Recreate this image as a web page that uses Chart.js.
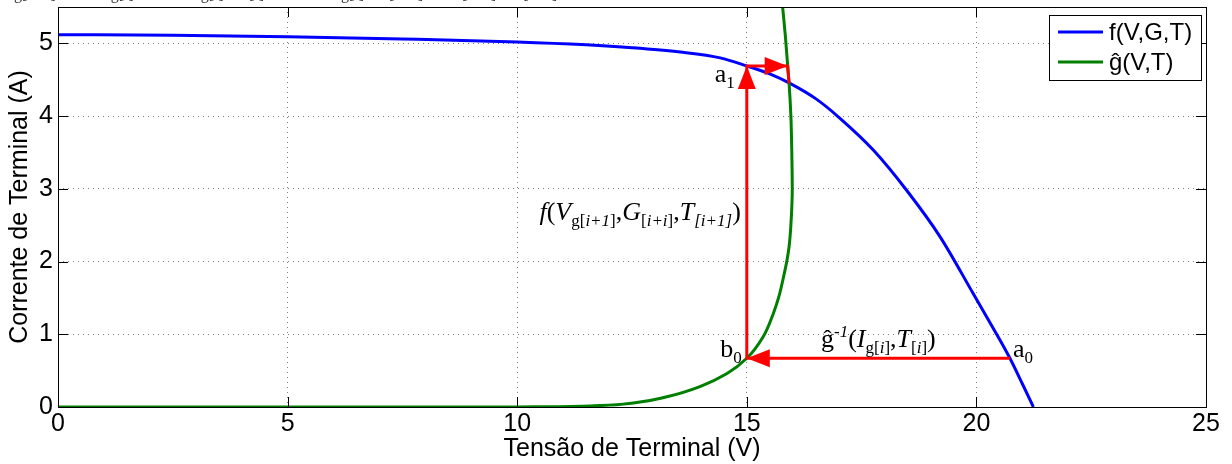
<!DOCTYPE html>
<html>
<head>
<meta charset="utf-8">
<script src="https://cdn.jsdelivr.net/npm/chart.js@4.4.1/dist/chart.umd.min.js"></script>
<style>
  html, body { margin: 0; padding: 0; background: #fff; }
  #wrap { width: 1232px; height: 464px; }
</style>
</head>
<body>
<div id="wrap"><canvas id="ivChart"></canvas></div>
<script>
// f(V,G,T) - I-V curve of the panel
const fV = [0, 2.5, 5, 7.5, 10, 11.5, 12.5, 13.55, 14.42, 15, 15.5, 15.94, 16.5, 17.03, 17.76, 18.48, 19.21, 19.93, 20.35, 20.73, 21.0, 21.24];
const fI = [5.12, 5.11, 5.09, 5.06, 5.02, 4.98, 4.94, 4.88, 4.80, 4.69, 4.58, 4.45, 4.24, 3.97, 3.53, 2.98, 2.34, 1.56, 1.10, 0.67, 0.32, 0];

// g^(V,T) - load curve
const gV = [0, 5, 10, 10.72, 11.81, 12.53, 13.26, 13.98, 14.57, 15, 15.36, 15.58, 15.7, 15.79, 15.87, 15.92, 15.96, 15.99, 15.98, 15.96, 15.92, 15.89, 15.84, 15.78];
const gI = [0, 0, 0, 0.003, 0.02, 0.055, 0.14, 0.28, 0.46, 0.67, 0.97, 1.29, 1.52, 1.76, 2.0, 2.2, 2.5, 3.0, 3.5, 4.0, 4.46, 4.69, 5.1, 5.5];

// iteration path a0 -> b0 -> a1 -> (over to g^) -> crossing
const pathV = [20.73, 15, 15, 15.89, 15.92];
const pathI = [0.67, 0.67, 4.69, 4.69, 4.45];
const headAt = [1, 2, 3];

const xTicks = [0, 5, 10, 15, 20, 25];
const yTicks = [0, 1, 2, 3, 4, 5];

const seriesLabels = ['f(V,G,T)', 'ĝ(V,T)'];
const seriesColors = ['#0000ff', '#007f00'];

const SANS = '"Liberation Sans", Arial, sans-serif';
const SERIF = '"Liberation Serif", "Times New Roman", serif';

function toXY(xs, ys) {
    return xs.map((x, i) => ({ x: x, y: ys[i] }));
}

// draws text with sub/superscripts; parts: [text, italic, level]
function drawRich(ctx, parts, x, y, align, size) {
    const fontOf = p => (p[1] ? 'italic ' : '') + (p[2] ? Math.round(size * 0.66) : size) + 'px ' + SERIF;
    let total = 0;
    parts.forEach(p => { ctx.font = fontOf(p); total += ctx.measureText(p[0]).width; });
    let cx = align === 'right' ? x - total : align === 'center' ? x - total / 2 : x;
    ctx.textAlign = 'left';
    ctx.textBaseline = 'alphabetic';
    parts.forEach(p => {
        ctx.font = fontOf(p);
        const dy = p[2] === -1 ? size * 0.22 : p[2] === 1 ? -size * 0.38 : 0;
        ctx.fillText(p[0], cx, y + dy);
        cx += ctx.measureText(p[0]).width;
    });
}

function arrowHead(ctx, x0, y0, x1, y1, len, half) {
    const d = Math.hypot(x1 - x0, y1 - y0);
    const ux = (x1 - x0) / d, uy = (y1 - y0) / d;
    const bx = x1 - ux * len, by = y1 - uy * len;
    ctx.beginPath();
    ctx.moveTo(x1, y1);
    ctx.lineTo(bx - uy * half, by + ux * half);
    ctx.lineTo(bx + uy * half, by - ux * half);
    ctx.closePath();
    ctx.fill();
}

const decorPlugin = {
    id: 'decor',
    afterDatasetsDraw(chart) {
        const ctx = chart.ctx;
        const xs = chart.scales.x, ys = chart.scales.y;
        const px = pathV.map(v => xs.getPixelForValue(v));
        const py = pathI.map(v => ys.getPixelForValue(v));
        ctx.save();
        ctx.fillStyle = '#ff0000';
        headAt.forEach(i => arrowHead(ctx, px[i - 1], py[i - 1], px[i], py[i], 23, 9));

        ctx.fillStyle = '#000';
        // point labels
        drawRich(ctx, [['a', false, 0], ['0', false, -1]], px[0] + 3, py[0] - 1, 'left', 26);
        drawRich(ctx, [['b', false, 0], ['0', false, -1]], px[1] - 5, py[1] - 1, 'right', 26);
        drawRich(ctx, [['a', false, 0], ['1', false, -1]], px[2] - 12, py[2] + 16, 'right', 26);

        // f(...) along the vertical step
        drawRich(ctx, [
            ['f', true, 0], ['(', false, 0], ['V', true, 0], ['g[', false, -1], ['i+1', true, -1], [']', false, -1],
            [',', false, 0], ['G', true, 0], ['[', false, -1], ['i+i', true, -1], [']', false, -1],
            [',', false, 0], ['T', true, 0], ['[i+1]', true, -1], [')', false, 0]
        ], px[1] - 6, (py[1] + py[2]) / 2 + 8, 'right', 26);

        // g^-1(...) above the horizontal step
        drawRich(ctx, [
            ['ĝ', false, 0], ['-1', true, 1], ['(', false, 0], ['I', true, 0], ['g[', false, -1], ['i', true, -1], [']', false, -1],
            [',', false, 0], ['T', true, 0], ['[', false, -1], ['i', true, -1], [']', false, -1], [')', false, 0]
        ], (px[0] + px[1]) / 2, py[0] - 11, 'center', 26);
        ctx.restore();
    },
    afterDraw(chart) {
        const ctx = chart.ctx;
        const a = chart.chartArea;
        const xs = chart.scales.x, ys = chart.scales.y;
        ctx.save();
        // axes box
        ctx.strokeStyle = '#000';
        ctx.lineWidth = 1;
        ctx.strokeRect(Math.round(a.left) + 0.5, Math.round(a.top) + 0.5, Math.round(a.right - a.left), Math.round(a.bottom - a.top));
        // inward ticks on all four sides
        ctx.beginPath();
        xTicks.forEach(v => {
            const x = Math.round(xs.getPixelForValue(v)) + 0.5;
            ctx.moveTo(x, a.bottom); ctx.lineTo(x, a.bottom - 10);
            ctx.moveTo(x, a.top); ctx.lineTo(x, a.top + 10);
        });
        yTicks.forEach(v => {
            const y = Math.round(ys.getPixelForValue(v)) + 0.5;
            ctx.moveTo(a.left, y); ctx.lineTo(a.left + 10, y);
            ctx.moveTo(a.right, y); ctx.lineTo(a.right - 10, y);
        });
        ctx.stroke();

        // legend box, inside the axes at the top right
        const lx = 1049, ly = 15, lw = 152, lh = 65;
        ctx.fillStyle = '#fff';
        ctx.fillRect(lx, ly, lw, lh);
        ctx.strokeRect(lx + 0.5, ly + 0.5, lw, lh);
        ctx.font = '24px ' + SANS;
        ctx.textBaseline = 'middle';
        ctx.textAlign = 'left';
        seriesLabels.forEach((lab, i) => {
            const y = ly + 17 + i * 30;
            ctx.strokeStyle = seriesColors[i];
            ctx.lineWidth = 3;
            ctx.beginPath();
            ctx.moveTo(lx + 9, y); ctx.lineTo(lx + 54, y);
            ctx.stroke();
            ctx.fillStyle = '#000';
            ctx.fillText(lab, lx + 60, y + 1);
        });

        // title of the figure, cut off by the top edge
        ctx.fillStyle = '#333';
        drawRich(ctx, [
            ['I', true, 0], ['g[', false, -1], ['i+1', true, -1], [']', false, -1], [' = ', false, 0], ['f', true, 0], ['(', false, 0],
            ['V', true, 0], ['g[', false, -1], ['i', true, -1], [']', false, -1], [' + ', false, 0], ['ĝ', false, 0], ['-1', true, 1],
            ['(', false, 0], ['I', true, 0], ['g[', false, -1], ['i', true, -1], [']', false, -1], [', ', false, 0], ['T', true, 0], ['[i]', true, -1],
            [') − ', false, 0], ['ĝ', false, 0], ['-1', true, 1], ['(', false, 0], ['I', true, 0], ['g[', false, -1], ['i', true, -1], [']', false, -1],
            [', ', false, 0], ['T', true, 0], ['[i+1]', true, -1], ['), ', false, 0], ['G', true, 0], ['[i+1]', true, -1], [', ', false, 0],
            ['T', true, 0], ['[i+1]', true, -1], [')', false, 0]
        ], 6, -6, 'left', 24);
        ctx.restore();
    }
};

const gridColor = (ticks) => (c) => {
    const v = c.tick ? c.tick.value : null;
    return (v === ticks[0] || v === ticks[ticks.length - 1]) ? 'rgba(0,0,0,0)' : 'rgba(0,0,0,0.5)';
};

new Chart(document.getElementById('ivChart'), {
    type: 'scatter',
    data: {
        datasets: [
            {
                label: 'path',
                data: toXY(pathV, pathI),
                showLine: true,
                borderColor: '#ff0000',
                borderWidth: 3,
                pointRadius: 0,
                tension: 0,
                order: 0
            },
            {
                label: seriesLabels[1],
                data: toXY(gV, gI),
                indexAxis: 'y',
                showLine: true,
                borderColor: seriesColors[1],
                borderWidth: 3,
                pointRadius: 0,
                cubicInterpolationMode: 'monotone',
                order: 1
            },
            {
                label: seriesLabels[0],
                data: toXY(fV, fI),
                showLine: true,
                borderColor: seriesColors[0],
                borderWidth: 3,
                pointRadius: 0,
                cubicInterpolationMode: 'monotone',
                order: 2
            }
        ]
    },
    options: {
        responsive: true,
        maintainAspectRatio: false,
        animation: false,
        events: [],
        layout: { padding: { top: 7, right: 26, left: 0, bottom: 0 } },
        plugins: {
            legend: { display: false },
            tooltip: { enabled: false },
            title: { display: false }
        },
        scales: {
            x: {
                type: 'linear',
                min: 0,
                max: 25,
                afterBuildTicks: s => { s.ticks = xTicks.map(v => ({ value: v })); },
                afterFit: s => { s.height = 57; s.paddingLeft = 0; s.paddingRight = 0; },
                ticks: {
                    color: '#000',
                    font: { family: SANS, size: 25 },
                    padding: 2,
                    maxRotation: 0,
                    autoSkip: false
                },
                grid: { drawTicks: false, color: gridColor(xTicks), lineWidth: 1 },
                border: { display: false, dash: [1, 4] },
                title: {
                    display: true,
                    text: 'Tensão de Terminal (V)',
                    color: '#000',
                    font: { family: SANS, size: 25 },
                    padding: { top: 0, bottom: 0 }
                }
            },
            y: {
                type: 'linear',
                min: 0,
                max: 5.5,
                afterBuildTicks: s => { s.ticks = yTicks.map(v => ({ value: v })); },
                afterFit: s => { s.width = 58; s.paddingTop = 0; s.paddingBottom = 0; },
                ticks: {
                    color: '#000',
                    font: { family: SANS, size: 25 },
                    padding: 5
                },
                grid: { drawTicks: false, color: gridColor([0, 5.5]), lineWidth: 1 },
                border: { display: false, dash: [1, 4] },
                title: {
                    display: true,
                    text: 'Corrente de Terminal (A)',
                    color: '#000',
                    font: { family: SANS, size: 25 },
                    padding: { top: 5, bottom: 0 }
                }
            }
        }
    },
    plugins: [decorPlugin]
});
</script>
</body>
</html>
